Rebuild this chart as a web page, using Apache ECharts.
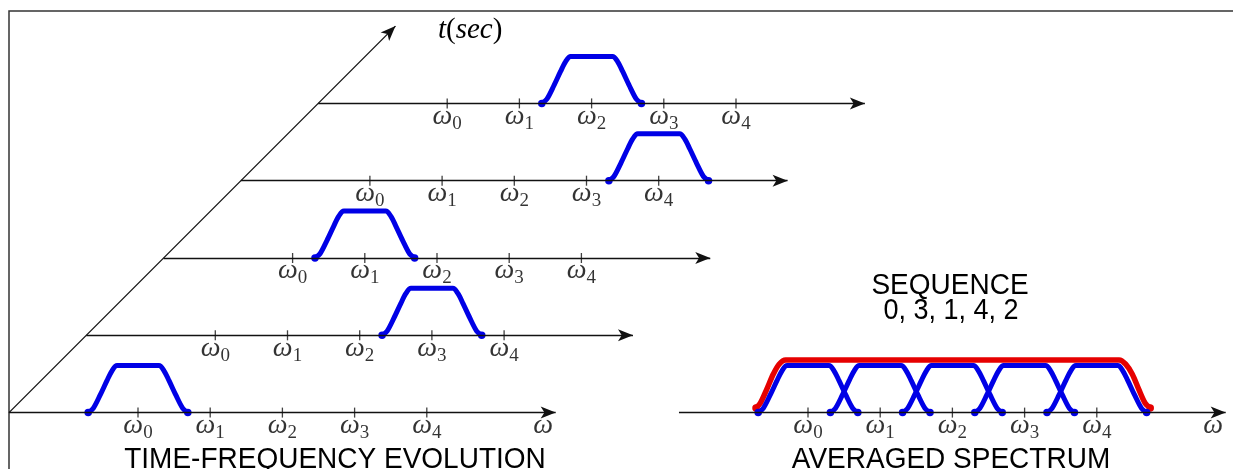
<!DOCTYPE html>
<html>
<head>
<meta charset="utf-8">
<script src="https://cdn.jsdelivr.net/npm/echarts@6/dist/echarts.min.js"></script>
<style>
  html, body { margin: 0; padding: 0; background: #fff; }
  #chart { width: 1233px; height: 469px; }
</style>
</head>
<body>
<div id="chart"></div>
<script>
// 频点 ω0..ω4
var freqIndex = [0, 1, 2, 3, 4];
// 跳频顺序：每个时间步所在的频点
var hopSequence = [0, 3, 1, 4, 2];
// 单个脉冲轮廓（相对中心频点的偏移 / 幅度）
var pulseOffset = [-0.69, -0.62, -0.525, -0.43, -0.36, -0.29, 0.29, 0.36, 0.43, 0.525, 0.62, 0.69];
var pulseAmp = [0, 0.09, 0.37, 0.68, 0.89, 1, 1, 0.89, 0.68, 0.37, 0.09, 0];
// 平均谱包络（相对 ω0）
var envOffset = [-0.72, -0.66, -0.57, -0.48, -0.4, -0.31, 4.31, 4.4, 4.49, 4.58, 4.67, 4.74];
var envAmp = [0.1, 0.2, 0.5, 0.82, 1.03, 1.12, 1.12, 1.03, 0.82, 0.5, 0.2, 0.1];
// 频率轴起止、时间轴长度（时间步）
var axisRange = [-1.787, 5.785];
var timeSteps = 5.0;
var omegaLabelAt = 5.61;

// 布局常量
var W = 1233, H = 469;
var PX_X = 72.2, PX_Y = 47;          // 每单位对应像素
var ORIGIN = [138, 412.6];           // t=0 时 ω0 的位置
var STEP_X = 77.3 / PX_X, STEP_Y = 77.3 / PX_Y;  // 每个时间步的斜向平移
var RIGHT_SHIFT = 670 / PX_X;        // 右侧平均谱平移

var xMin = -ORIGIN[0] / PX_X;
var xMax = (W - ORIGIN[0]) / PX_X;
var yMax = ORIGIN[1] / PX_Y;
var yMin = -(H - ORIGIN[1]) / PX_Y;

var chart = echarts.init(document.getElementById('chart'));

var BLUE = '#0000e6', RED = '#e60000', INK = '#000';

// 坐标轴（带箭头）
var arrows = [];
for (var t = 0; t < hopSequence.length; t++) {
  arrows.push([{ coord: [axisRange[0] + t * STEP_X, t * STEP_Y] }, { coord: [axisRange[1] + t * STEP_X, t * STEP_Y] }]);
}
arrows.push([{ coord: [axisRange[0] + RIGHT_SHIFT, 0] }, { coord: [axisRange[1] + RIGHT_SHIFT, 0] }]);
arrows.push([{ coord: [axisRange[0], 0] }, { coord: [axisRange[0] + timeSteps * STEP_X, timeSteps * STEP_Y] }]);

// 刻度位置
var ticks = [];
for (var t = 0; t < hopSequence.length; t++) {
  freqIndex.forEach(function (k) { ticks.push([k + t * STEP_X, t * STEP_Y, k]); });
}
freqIndex.forEach(function (k) { ticks.push([k + RIGHT_SHIFT, 0, k]); });

var omegaRich = {
  w: { fontFamily: 'Liberation Serif', fontStyle: 'italic', fontSize: 28, color: INK },
  s: { fontFamily: 'Liberation Serif', fontSize: 19, color: INK, padding: [15, 0, 0, 0] }
};

function pulse(center, base) {
  return pulseOffset.map(function (o, i) { return [center + o, base + pulseAmp[i]]; });
}

function endDot(value, params) {
  return (params.dataIndex === 0 || params.dataIndex === pulseOffset.length - 1) ? 7.5 : 0;
}

var series = [];

series.push({
  type: 'line', data: [], silent: true,
  markLine: {
    silent: true, symbol: ['none', 'arrow'], symbolSize: [9, 15],
    lineStyle: { color: '#111', width: 1.3, type: 'solid' },
    label: { show: false },
    data: arrows
  }
});

series.push({
  type: 'scatter', silent: true, symbol: 'rect', symbolSize: [1.3, 10],
  itemStyle: { color: '#111' },
  data: ticks,
  label: {
    show: true, position: [0.65, 18], align: 'center', verticalAlign: 'middle',
    formatter: function (p) { return '{w|ω}{s|' + p.value[2] + '}'; },
    rich: omegaRich
  },
  labelLayout: { hideOverlap: false }
});

// 频率轴标签 ω
series.push({
  type: 'scatter', silent: true, symbolSize: 0,
  data: [[omegaLabelAt, 0], [omegaLabelAt + RIGHT_SHIFT, 0]],
  label: {
    show: true, position: [0, 13], align: 'center', verticalAlign: 'middle',
    formatter: '{w|ω}', rich: omegaRich
  }
});

// 平均谱包络（红）
series.push({
  type: 'line', silent: true, z: 3,
  data: envOffset.map(function (o, i) { return [o + RIGHT_SHIFT, envAmp[i]]; }),
  smooth: 0.3, symbol: 'circle', symbolSize: endDot,
  lineStyle: { color: RED, width: 5.5 }, itemStyle: { color: RED }
});

// 时频演化中的脉冲
hopSequence.forEach(function (k, t) {
  series.push({
    type: 'line', silent: true, z: 4,
    data: pulse(k + t * STEP_X, t * STEP_Y),
    smooth: 0.3, symbol: 'circle', symbolSize: endDot,
    lineStyle: { color: BLUE, width: 5 }, itemStyle: { color: BLUE }
  });
});

// 右侧各频点脉冲
freqIndex.forEach(function (k) {
  series.push({
    type: 'line', silent: true, z: 4,
    data: pulse(k + RIGHT_SHIFT, 0),
    smooth: 0.3, symbol: 'circle', symbolSize: endDot,
    lineStyle: { color: BLUE, width: 5 }, itemStyle: { color: BLUE }
  });
});

var sansFont = { fontFamily: 'Liberation Sans', fontSize: 28, fill: INK, align: 'center', verticalAlign: 'middle' };

function caption(text, x, y, size) {
  return {
    type: 'text', x: x, y: y, scaleY: 1.08, silent: true,
    style: Object.assign({ text: text }, sansFont, size ? { fontSize: size } : {})
  };
}

chart.setOption({
  animation: false,
  grid: { show: false, left: 0, top: 0, width: W, height: H },
  xAxis: { type: 'value', min: xMin, max: xMax, show: false },
  yAxis: { type: 'value', min: yMin, max: yMax, show: false },
  graphic: [
    {
      type: 'polyline', silent: true,
      shape: { points: [[9, H + 2], [9, 11], [W + 2, 11]] },
      style: { stroke: '#333', lineWidth: 1.5, fill: null }
    },
    caption('TIME-FREQUENCY EVOLUTION', 335, 459.5),
    caption('AVERAGED SPECTRUM', 951, 459.5),
    caption('SEQUENCE', 950, 285.5),
    caption(hopSequence.join(', '), 951, 310.5, 27),
    {
      type: 'text', x: 438, y: 30.5, silent: true,
      style: {
        text: '{i|t}{r|(}{i|sec}{r|)}', align: 'left', verticalAlign: 'middle',
        rich: {
          i: { fontFamily: 'Liberation Serif', fontStyle: 'italic', fontSize: 29, fill: INK },
          r: { fontFamily: 'Liberation Serif', fontSize: 29, fill: INK }
        }
      }
    }
  ],
  series: series
});
</script>
</body>
</html>
